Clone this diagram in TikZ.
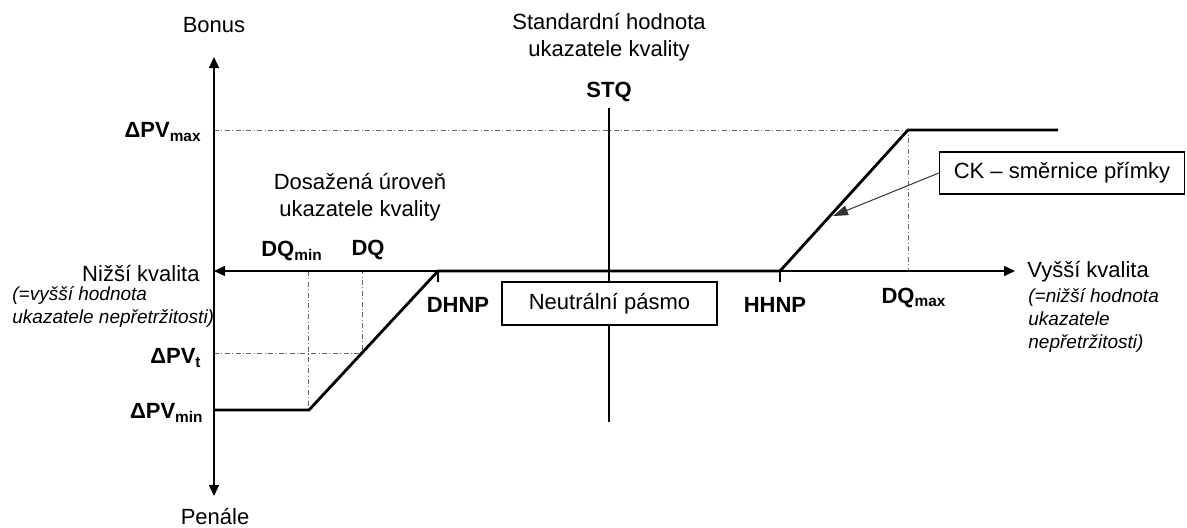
\documentclass[tikz,border=0pt]{standalone}
\usepackage{fontspec}
\setmainfont{Liberation Sans}
\usetikzlibrary{arrows.meta}

\begin{document}
\fontsize{11}{13.5}\selectfont
\begin{tikzpicture}[x=0.5pt,y=-0.5pt]
% Definice stylů
\tikzset{
  axis/.style={line width=0.6pt, {Triangle[length=5.5pt,width=5pt]}-{Triangle[length=5.5pt,width=5pt]}},
  curve/.style={line width=1.4pt, line join=miter},
  guide/.style={line width=0.4pt, black!60, dash pattern=on 2.5pt off 1.2pt on 0.5pt off 1.2pt},
  tick/.style={line width=0.6pt},
  pointer/.style={line width=0.5pt, black!80, -{Triangle[length=7.5pt,width=5pt]}},
  label/.style={font=\bfseries, inner sep=1pt},
  note/.style={inner sep=1pt, align=center},
  remark/.style={font=\itshape\fontsize{9.5}{11.5}\selectfont, inner sep=0pt, align=left, anchor=west},
  box/.style={rectangle, draw, fill=white, line width=0.6pt, inner sep=2pt}
}
\useasboundingbox (0,0) rectangle (1187,527);

% Body grafu
\coordinate (origin) at (214,271);
\coordinate (y_top) at (214,57);
\coordinate (y_bot) at (214,496);
\coordinate (x_right) at (1015,271);
\coordinate (pv_min_start) at (214,410);
\coordinate (dq_min_pt) at (309,410);
\coordinate (dhnp_pt) at (438,271);
\coordinate (hhnp_pt) at (780,271);
\coordinate (dq_max_pt) at (908,130);
\coordinate (pv_max_end) at (1058,130);
\coordinate (pv_max_axis) at (214,130);
\coordinate (dq_max_axis) at (908,271);
\coordinate (dq_min_axis) at (308,271);
\coordinate (dq_min_low) at (308,410);
\coordinate (dq_axis) at (362,271);
\coordinate (dq_pt) at (362,353);
\coordinate (pv_t_axis) at (214,353);
\coordinate (stq_top) at (609,108);
\coordinate (stq_bot) at (609,422);
\coordinate (ck_tip) at (833,216);

% Pomocné čáry
\draw[guide] (pv_max_axis) -- (dq_max_pt) -- (dq_max_axis);
\draw[guide] (dq_min_axis) -- (dq_min_low);
\draw[guide] (pv_t_axis) -- (dq_pt) -- (dq_axis);

% Osy
\draw[axis] (y_bot) -- (y_top);
\draw[axis] (origin) -- (x_right);
\draw[tick] (stq_top) -- (stq_bot);
\draw[tick] (dhnp_pt) -- ++(0,11);
\draw[tick] (hhnp_pt) -- ++(0,11);

% Průběh
\draw[curve] (pv_min_start) -- (dq_min_pt) -- (dhnp_pt) -- (hhnp_pt) -- (dq_max_pt) -- (pv_max_end);

% Popisy os
\node[note] (bonus) at (214,25) {Bonus};
\node[note] (penale) at (215,516) {Penále};
\node[note] (standard) at (609,37) {Standardní hodnota\\ukazatele kvality};
\node[note] (dosazena) at (360,197) {Dosažená úroveň\\ukazatele kvality};
\node[note, anchor=east] (nizsi) at (202,273) {Nižší kvalita};
\node[remark] (nizsi_note) at (12,307) {(=vyšší hodnota\\ukazatele nepřetržitosti)};
\node[note, anchor=west] (vyssi) at (1025,272) {Vyšší kvalita};
\node[remark] (vyssi_note) at (1028,320) {(=nižší hodnota\\ukazatele\\nepřetržitosti)};

% Hodnoty
\node[label] (stq) at (609,92) {STQ};
\node[label, anchor=east] (pv_max) at (204,132) {ΔPV\textsubscript{max}};
\node[label, anchor=east] (pv_t) at (204,358) {ΔPV\textsubscript{t}};
\node[label, anchor=east] (pv_min) at (206,413) {ΔPV\textsubscript{min}};
\node[label] (dq_min) at (292,251) {DQ\textsubscript{min}};
\node[label] (dq) at (368,250) {DQ};
\node[label] (dhnp) at (458,305) {DHNP};
\node[label] (hhnp) at (775,305) {HHNP};
\node[label] (dq_max) at (914,298) {DQ\textsubscript{max}};

% Rámečky
\node[box, minimum width=107.5pt, minimum height=21.5pt] (neutral) at (609.5,303.5) {Neutrální pásmo};
\node[box, minimum width=122.5pt, minimum height=21pt] (ck_box) at (1062,173) {CK – směrnice přímky};
\draw[pointer] (ck_box.west) -- (ck_tip);

\end{tikzpicture}
\end{document}
